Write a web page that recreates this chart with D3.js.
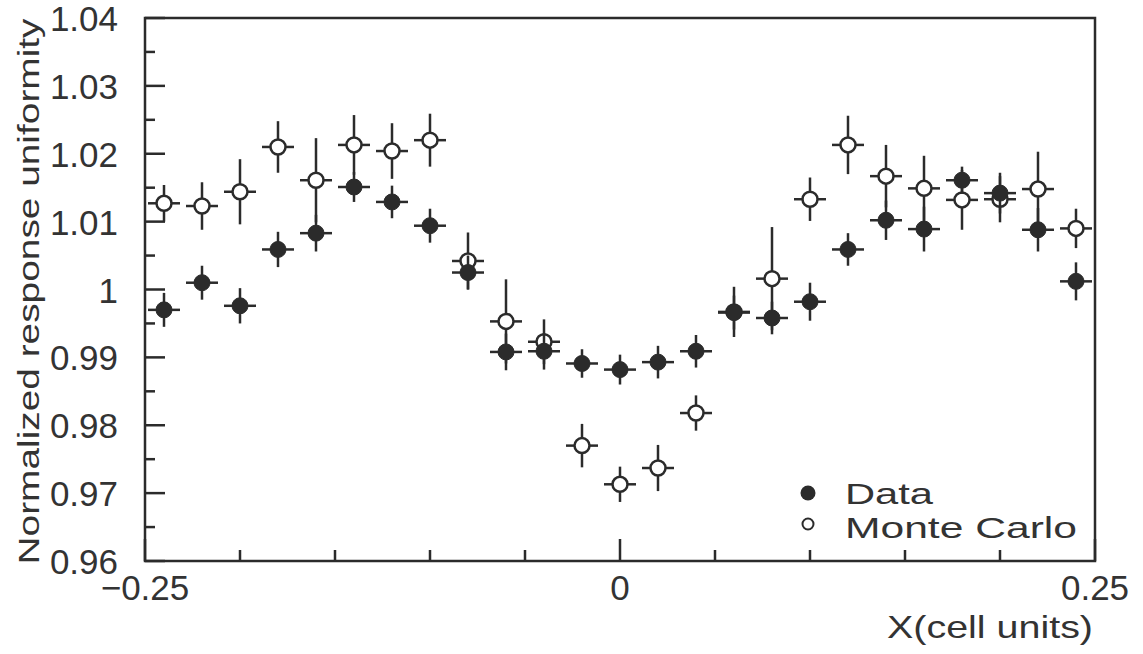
<!DOCTYPE html>
<html>
<head>
<meta charset="utf-8">
<script src="https://cdn.jsdelivr.net/npm/d3@7"></script>
<style>
  html, body { margin: 0; padding: 0; background: #fff; }
  svg { display: block; }
  text { font-family: "Liberation Sans", Arial, sans-serif; fill: #333; }
</style>
</head>
<body>
<svg id="chart" width="1143" height="654"></svg>
<script>
// ---- data ----
const xPos = [-0.24, -0.22, -0.20, -0.18, -0.16, -0.14, -0.12, -0.10, -0.08, -0.06, -0.04, -0.02,
              0.00, 0.02, 0.04, 0.06, 0.08, 0.10, 0.12, 0.14, 0.16, 0.18, 0.20, 0.22, 0.24];
const dataVals = [0.9970, 1.0010, 0.9976, 1.0059, 1.0083, 1.0151, 1.0129, 1.0094, 1.0025, 0.9908, 0.9909, 0.9891,
                  0.9882, 0.9893, 0.9909, 0.9966, 0.9958, 0.9982, 1.0059, 1.0102, 1.0089, 1.0161, 1.0142, 1.0088, 1.0012];
const dataErr = [0.0025, 0.0025, 0.0026, 0.0026, 0.0027, 0.0022, 0.0024, 0.0025, 0.0025, 0.0027, 0.0027, 0.0021,
                 0.0022, 0.0024, 0.0024, 0.0025, 0.0024, 0.0028, 0.0024, 0.0029, 0.0033, 0.0020, 0.0030, 0.0032, 0.0028];
const mcVals = [1.0127, 1.0123, 1.0144, 1.0210, 1.0161, 1.0213, 1.0204, 1.0220, 1.0042, 0.9953, 0.9923, 0.9770,
                0.9713, 0.9737, 0.9818, 0.9967, 1.0016, 1.0133, 1.0213, 1.0167, 1.0149, 1.0132, 1.0133, 1.0148, 1.0090];
const mcErr = [0.0027, 0.0035, 0.0048, 0.0038, 0.0062, 0.0044, 0.0041, 0.0039, 0.0042, 0.0062, 0.0033, 0.0032,
               0.0026, 0.0034, 0.0026, 0.0037, 0.0076, 0.0032, 0.0043, 0.0046, 0.0048, 0.0044, 0.0034, 0.0055, 0.0029];

const yTickVals = [1.04, 1.03, 1.02, 1.01, 1.00, 0.99, 0.98, 0.97, 0.96];
const yTickLabels = ["1.04", "1.03", "1.02", "1.01", "1", "0.99", "0.98", "0.97", "0.96"];
const yMinorVals = [1.035, 1.025, 1.015, 1.005, 0.995, 0.985, 0.975, 0.965];
const xTickVals = [-0.25, 0, 0.25];
const xTickLabels = ["\u22120.25", "0", "0.25"];
const xMinorVals = [-0.20, -0.15, -0.10, -0.05, 0.05, 0.10, 0.15, 0.20];
const legendLabels = ["Data", "Monte Carlo"];
const yTitle = "Normalized response uniformity";
const xTitle = "X(cell units)";

// ---- layout ----
const L = 145, R = 1095, T = 18, B = 561;
const ink = "#2b2b2b";
const svg = d3.select("#chart");
const x = d3.scaleLinear().domain([-0.25, 0.25]).range([L, R]);
const y = d3.scaleLinear().domain([0.96, 1.04]).range([B, T]);

// frame
svg.append("rect").attr("x", L).attr("y", T).attr("width", R - L).attr("height", B - T)
  .attr("fill", "none").attr("stroke", ink).attr("stroke-width", 2.5);

// y ticks (inside, from left axis)
const ga = svg.append("g").attr("stroke", ink).attr("stroke-width", 2.5);
ga.selectAll(".ymaj").data(yTickVals).join("line")
  .attr("x1", L).attr("x2", L + 20).attr("y1", d => y(d)).attr("y2", d => y(d));
ga.selectAll(".ymin").data(yMinorVals).join("line")
  .attr("x1", L).attr("x2", L + 10).attr("y1", d => y(d)).attr("y2", d => y(d));
// x ticks (inside, from bottom axis)
ga.selectAll(".xmaj").data(xTickVals).join("line")
  .attr("x1", d => x(d)).attr("x2", d => x(d)).attr("y1", B).attr("y2", B - 22);
ga.selectAll(".xmin").data(xMinorVals).join("line")
  .attr("x1", d => x(d)).attr("x2", d => x(d)).attr("y1", B).attr("y2", B - 11);

// tick labels
svg.selectAll(".ylab").data(yTickVals).join("text")
  .attr("x", 118).attr("y", d => y(d) + 13).attr("text-anchor", "end")
  .attr("font-size", 35).text((d, i) => yTickLabels[i]);
svg.selectAll(".xlab").data(xTickVals).join("text")
  .attr("x", d => x(d)).attr("y", B + 39).attr("text-anchor", "middle")
  .attr("font-size", 35).text((d, i) => xTickLabels[i]);

// axis titles
svg.append("text").attr("transform", "translate(39," + ((T + B) / 2 + 2) + ") rotate(-90)")
  .attr("text-anchor", "middle").attr("font-size", 30)
  .attr("textLength", 546).attr("lengthAdjust", "spacingAndGlyphs").text(yTitle);
svg.append("text").attr("x", R - 2 - 206).attr("y", 638)
  .attr("font-size", 32).attr("textLength", 206).attr("lengthAdjust", "spacingAndGlyphs").text(xTitle);

// ---- series ----
function drawSeries(vals, errs, filled) {
  const g = svg.append("g");
  const pts = vals.map((v, i) => ({ x: xPos[i], v: v, e: errs[i] }));
  g.selectAll(".ev").data(pts).join("line")
    .attr("x1", d => x(d.x)).attr("x2", d => x(d.x))
    .attr("y1", d => y(d.v - d.e)).attr("y2", d => y(d.v + d.e))
    .attr("stroke", ink).attr("stroke-width", 2.5);
  g.selectAll(".eh").data(pts).join("line")
    .attr("x1", d => x(d.x) - 16).attr("x2", d => x(d.x) + 16)
    .attr("y1", d => y(d.v)).attr("y2", d => y(d.v))
    .attr("stroke", ink).attr("stroke-width", 2.5);
  g.selectAll("circle").data(pts).join("circle")
    .attr("cx", d => x(d.x)).attr("cy", d => y(d.v))
    .attr("r", filled ? 8 : 7.5)
    .attr("fill", filled ? ink : "#fff")
    .attr("stroke", ink).attr("stroke-width", filled ? 1 : 2.5);
}
drawSeries(mcVals, mcErr, false);
drawSeries(dataVals, dataErr, true);

// ---- legend ----
svg.append("circle").attr("cx", 808).attr("cy", 493).attr("r", 7.5).attr("fill", ink);
svg.append("circle").attr("cx", 808).attr("cy", 524).attr("r", 5.5).attr("fill", "#fff")
  .attr("stroke", ink).attr("stroke-width", 2);
svg.append("text").attr("x", 845).attr("y", 504).attr("font-size", 29)
  .attr("textLength", 88).attr("lengthAdjust", "spacingAndGlyphs").text(legendLabels[0]);
svg.append("text").attr("x", 845).attr("y", 538).attr("font-size", 29)
  .attr("textLength", 232).attr("lengthAdjust", "spacingAndGlyphs").text(legendLabels[1]);
</script>
</body>
</html>
